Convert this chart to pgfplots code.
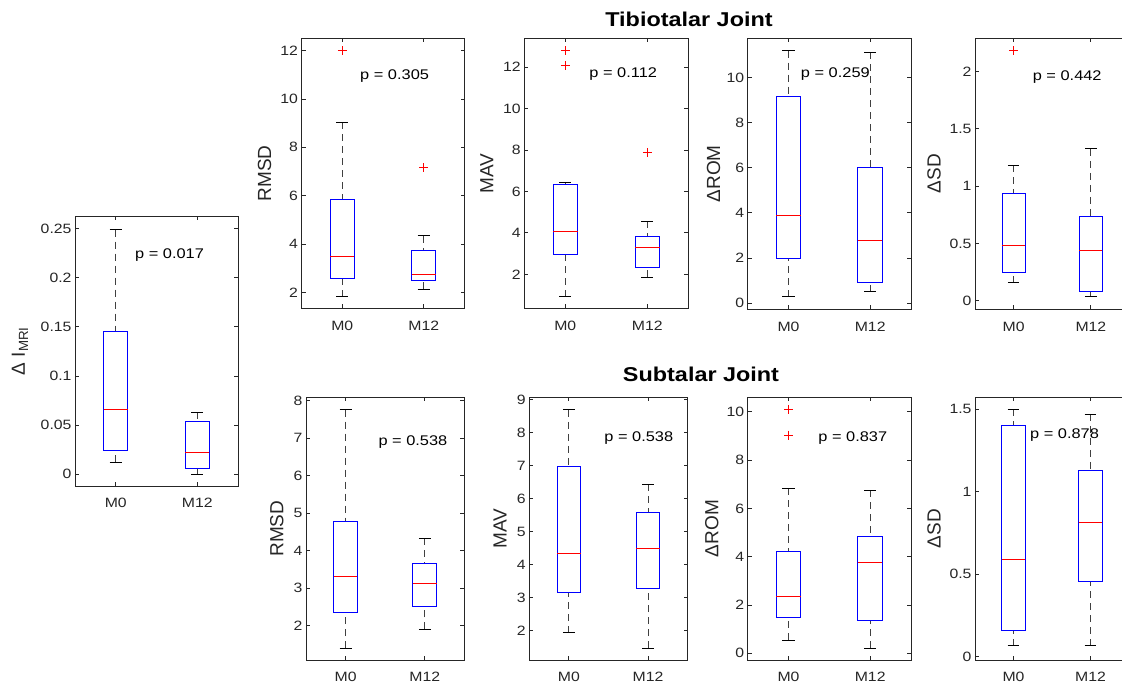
\documentclass[border=0pt]{standalone}
\usepackage{pgfplots}
\pgfplotsset{compat=1.18}
\usepgfplotslibrary{statistics}
\usepackage{fontspec}
\setmainfont{Liberation Sans}[FakeStretch=1.17]
\newfontfamily\labfont{Liberation Sans}
\definecolor{axgray}{gray}{0.15}
\definecolor{whgray}{gray}{0.25}

\pgfplotsset{
  panel/.style={
    scale only axis,
    anchor=north west,
    xmin=0.5, xmax=2.5,
    xtick={1,2}, xticklabels={M0,M12},
    axis line style={draw=axgray, line width=0.9pt},
    major tick style={draw=axgray, line width=0.9pt},
    major tick length=4pt,
    tick align=inside,
    minor tick num=0,
    tick label style={font=\fontsize{13.5}{15}\selectfont, text=axgray},
    xticklabel style={yshift=-9pt},
    /pgf/number format/assume math mode=true,
    /pgf/number format/fixed,
    scaled y ticks=false,
    ylabel style={font=\labfont\fontsize{19}{21}\selectfont, text=axgray, anchor=base},
    boxplot/draw direction=y,
    boxplot/box extend=0.3,
    boxplot/whisker extend=0.15,
    boxplot/draw/box/.code={%
      \draw[draw=blue, line width=1pt]
        (boxplot box cs:\pgfplotsboxplotvalue{lower quartile},0) rectangle (boxplot box cs:\pgfplotsboxplotvalue{upper quartile},1);
    },
    boxplot/draw/median/.code={%
      \draw[draw=red, line width=1pt]
        (boxplot box cs:\pgfplotsboxplotvalue{median},0) -- (boxplot box cs:\pgfplotsboxplotvalue{median},1);
    },
    boxplot/draw/lower whisker/.code={%
      \draw[draw=whgray, line width=0.9pt, dash pattern=on 7pt off 5pt]
        (boxplot box cs:\pgfplotsboxplotvalue{lower whisker},0.5) -- (boxplot box cs:\pgfplotsboxplotvalue{lower quartile},0.5);
      \draw[draw=black, line width=0.9pt]
        (boxplot whisker cs:\pgfplotsboxplotvalue{lower whisker},0) -- (boxplot whisker cs:\pgfplotsboxplotvalue{lower whisker},1);
    },
    boxplot/draw/upper whisker/.code={%
      \draw[draw=whgray, line width=0.9pt, dash pattern=on 7pt off 5pt]
        (boxplot box cs:\pgfplotsboxplotvalue{upper whisker},0.5) -- (boxplot box cs:\pgfplotsboxplotvalue{upper quartile},0.5);
      \draw[draw=black, line width=0.9pt]
        (boxplot whisker cs:\pgfplotsboxplotvalue{upper whisker},0) -- (boxplot whisker cs:\pgfplotsboxplotvalue{upper whisker},1);
    },
  },
  ylpos/.style={ylabel style={at={([xshift=-#1pt]rel axis cs:0,0.5)}}},
  bx/.style={draw=blue, mark=none},
  outl/.style={only marks, draw=red, mark=+, mark size=4.5pt, mark options={draw=red, solid, line width=1pt}},
}
\tikzset{pval/.style={anchor=base west, inner sep=0pt, text=black, font=\fontsize{14}{16}\selectfont}}

\begin{document}
\begin{tikzpicture}
\useasboundingbox (0pt,0pt) rectangle (1122pt,-685pt);
\clip (0pt,0pt) rectangle (1122pt,-685pt);

\node[font=\fontsize{20}{22}\selectfont\bfseries, anchor=base] at (689pt,-27pt) {Tibiotalar Joint};
\node[font=\fontsize{20}{22}\selectfont\bfseries, anchor=base] at (701pt,-381pt) {Subtalar Joint};

% ===== Delta I_MRI =====
\begin{axis}[panel, at={(75pt,-216pt)}, width=163pt, height=270pt,
    ymin=-0.012, ymax=0.263, ytick={0,0.05,0.1,0.15,0.2,0.25},
    ylabel={Δ I\textsubscript{MRI}}, ylpos=50]
\addplot[bx, boxplot prepared={draw position=1, lower whisker=0.012, lower quartile=0.0245, median=0.066, upper quartile=0.145, upper whisker=0.249}] coordinates {};
\addplot[bx, boxplot prepared={draw position=2, lower whisker=0.0, lower quartile=0.0058, median=0.0224, upper quartile=0.054, upper whisker=0.063}] coordinates {};
\node[pval] at (rel axis cs:0.368,0.841) {p = 0.017};
\end{axis}

% ===== Tibiotalar joint =====
\begin{axis}[panel, at={(301.5pt,-38.3pt)}, width=163pt, height=270pt,
    ymin=1.34, ymax=12.51, ytick={2,4,6,8,10,12},
    ylabel={RMSD}, ylpos=30.5]
\addplot[bx, boxplot prepared={draw position=1, lower whisker=1.82, lower quartile=2.58, median=3.47, upper quartile=5.85, upper whisker=9.04}] coordinates {};
\addplot[bx, boxplot prepared={draw position=2, lower whisker=2.14, lower quartile=2.47, median=2.75, upper quartile=3.72, upper whisker=4.34}] coordinates {};
\addplot[outl] coordinates {(1,12.0) (2,7.16)};
\node[pval] at (rel axis cs:0.359,0.846) {p = 0.305};
\end{axis}

\begin{axis}[panel, at={(524.3pt,-38.3pt)}, width=164pt, height=270pt,
    ymin=0.357, ymax=13.40, ytick={2,4,6,8,10,12},
    ylabel={MAV}, ylpos=31]
\addplot[bx, boxplot prepared={draw position=1, lower whisker=0.92, lower quartile=2.98, median=4.09, upper quartile=6.35, upper whisker=6.43}] coordinates {};
\addplot[bx, boxplot prepared={draw position=2, lower whisker=1.86, lower quartile=2.34, median=3.30, upper quartile=3.81, upper whisker=4.57}] coordinates {};
\addplot[outl] coordinates {(1,12.80) (1,12.08) (2,7.88)};
\node[pval] at (rel axis cs:0.396,0.853) {p = 0.112};
\end{axis}

\begin{axis}[panel, at={(747.7pt,-38.3pt)}, width=163.3pt, height=271pt,
    ymin=-0.27, ymax=11.73, ytick={0,2,4,6,8,10},
    ylabel={ΔROM}, ylpos=27.7]
\addplot[bx, boxplot prepared={draw position=1, lower whisker=0.29, lower quartile=1.97, median=3.88, upper quartile=9.14, upper whisker=11.18}] coordinates {};
\addplot[bx, boxplot prepared={draw position=2, lower whisker=0.50, lower quartile=0.93, median=2.77, upper quartile=6.03, upper whisker=11.12}] coordinates {};
\node[pval] at (rel axis cs:0.325,0.855) {p = 0.259};
\end{axis}

\begin{axis}[panel, at={(975pt,-38.3pt)}, width=154.5pt, height=271pt,
    ymin=-0.075, ymax=2.29, ytick={0,0.5,1,1.5,2},
    ylabel={ΔSD}, ylpos=34.3]
\addplot[bx, boxplot prepared={draw position=1, lower whisker=0.157, lower quartile=0.248, median=0.48, upper quartile=0.938, upper whisker=1.18}] coordinates {};
\addplot[bx, boxplot prepared={draw position=2, lower whisker=0.035, lower quartile=0.082, median=0.44, upper quartile=0.737, upper whisker=1.325}] coordinates {};
\addplot[outl] coordinates {(1,2.18)};
\node[pval] at (rel axis cs:0.373,0.846) {p = 0.442};
\end{axis}

% ===== Subtalar joint =====
\begin{axis}[panel, at={(306pt,-397.3pt)}, width=158.3pt, height=262.7pt,
    ymin=1.085, ymax=8.09, ytick={2,3,4,5,6,7,8},
    ylabel={RMSD}, ylpos=22.7]
\addplot[bx, boxplot prepared={draw position=1, lower whisker=1.40, lower quartile=2.35, median=3.31, upper quartile=4.79, upper whisker=7.76}] coordinates {};
\addplot[bx, boxplot prepared={draw position=2, lower whisker=1.90, lower quartile=2.50, median=3.12, upper quartile=3.66, upper whisker=4.33}] coordinates {};
\node[pval] at (rel axis cs:0.457,0.816) {p = 0.538};
\end{axis}

\begin{axis}[panel, at={(529.3pt,-397.3pt)}, width=158.4pt, height=262.7pt,
    ymin=1.11, ymax=9.08, ytick={2,3,4,5,6,7,8,9},
    ylabel={MAV}, ylpos=22.6]
\addplot[bx, boxplot prepared={draw position=1, lower whisker=1.94, lower quartile=3.17, median=4.33, upper quartile=6.98, upper whisker=8.70}] coordinates {};
\addplot[bx, boxplot prepared={draw position=2, lower whisker=1.47, lower quartile=3.29, median=4.49, upper quartile=5.59, upper whisker=6.44}] coordinates {};
\node[pval] at (rel axis cs:0.473,0.831) {p = 0.538};
\end{axis}

\begin{axis}[panel, at={(747.7pt,-397.3pt)}, width=163.3pt, height=262.7pt,
    ymin=-0.28, ymax=10.6, ytick={0,2,4,6,8,10},
    ylabel={ΔROM}, ylpos=29.4]
\addplot[bx, boxplot prepared={draw position=1, lower whisker=0.55, lower quartile=1.46, median=2.37, upper quartile=4.23, upper whisker=6.83}] coordinates {};
\addplot[bx, boxplot prepared={draw position=2, lower whisker=0.21, lower quartile=1.37, median=3.77, upper quartile=4.83, upper whisker=6.76}] coordinates {};
\addplot[outl] coordinates {(1,10.1) (1,9.03)};
\node[pval] at (rel axis cs:0.432,0.831) {p = 0.837};
\end{axis}

\begin{axis}[panel, at={(975pt,-397.3pt)}, width=154pt, height=262.7pt,
    ymin=-0.02, ymax=1.573, ytick={0,0.5,1,1.5},
    ylabel={ΔSD}, ylpos=34.3]
\addplot[bx, boxplot prepared={draw position=1, lower whisker=0.067, lower quartile=0.158, median=0.592, upper quartile=1.405, upper whisker=1.50}] coordinates {};
\addplot[bx, boxplot prepared={draw position=2, lower whisker=0.067, lower quartile=0.459, median=0.813, upper quartile=1.132, upper whisker=1.472}] coordinates {};
\node[pval] at (rel axis cs:0.357,0.844) {p = 0.878};
\end{axis}
\end{tikzpicture}
\end{document}
